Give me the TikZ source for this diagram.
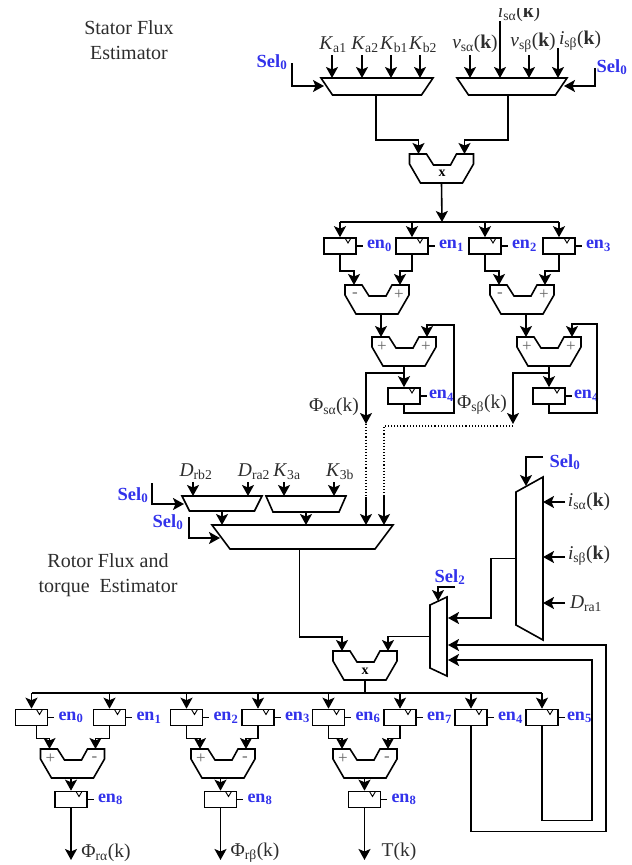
\documentclass[tikz,border=0pt]{standalone}
\usepackage{fontspec}
\setmainfont{Liberation Serif}
\usetikzlibrary{arrows.meta,positioning}
\definecolor{selblue}{RGB}{50,50,235}
\definecolor{txtgray}{RGB}{45,45,45}
\newcommand{\sbt}[1]{\textsubscript{#1}}
\tikzset{
    wire/.style={line width=1.6pt},
    arr/.style={line width=1.6pt, -{Stealth[length=11pt,width=12pt,inset=2.5pt]}},
    link/.style={line width=1.1pt, dotted},
    regbox/.style={draw, line width=1.6pt, fill=white, inner sep=0pt, minimum width=32pt, minimum height=16pt,
        path picture={\draw[line width=0.9pt] ([xshift=-11pt]path picture bounding box.north east) -- ([xshift=-8pt,yshift=-5pt]path picture bounding box.north east) -- ([xshift=-5pt]path picture bounding box.north east);}},
    enlabel/.style={text=selblue, inner sep=0pt, font=\fontsize{18}{18}\selectfont\bfseries},
    sellabel/.style={text=selblue, inner sep=0pt, font=\fontsize{18.5}{18.5}\selectfont\bfseries},
    siglabel/.style={text=txtgray, inner sep=0pt, font=\fontsize{19.5}{19.5}\selectfont},
    titlelabel/.style={text=txtgray, inner sep=0pt, align=center, font=\fontsize{20}{25.5}\selectfont},
    signlabel/.style={text=black!60, inner sep=0pt, font=\fontsize{17}{17}\selectfont},
    pics/alu/.style 2 args={code={
        \draw[wire] (-32,0) -- (-15,0) -- (-8,11) -- (9,11) -- (15,0) -- (32,0) -- (32,10) -- (21,29) -- (-21,29) -- (-32,10) -- cycle;
        \coordinate (-inl) at (-23,0);
        \coordinate (-inr) at (23,0);
        \coordinate (-out) at (0,29);
        \node[signlabel] (-sl) at (-22,10) {#1};
        \node[signlabel] (-sr) at (22,10) {#2};
    }},
    pics/hmux/.style n args={3}{code={
        \draw[wire] (-#1,0) -- (#1,0) -- (#2,#3) -- (-#2,#3) -- cycle;
        \coordinate (-top) at (0,0);
        \coordinate (-bot) at (0,#3);
    }},
    pics/vmux/.style n args={3}{code={
        \draw[wire] (0,-#1) -- (0,#1) -- (-#3,#2) -- (-#3,-#2) -- cycle;
        \coordinate (-in) at (0,0);
        \coordinate (-out) at (-#3,0);
    }}
}
\begin{document}
\begin{tikzpicture}[x=1pt, y=-1pt]
    \useasboundingbox (0,0) rectangle (632,865);
    \clip (0,8) rectangle (632,865);

    % Titles
    \node[titlelabel] (titleS) at (129,40) {Stator Flux\\Estimator};
    \node[titlelabel] (titleR) at (108,575) {Rotor Flux and\\torque\ \ Estimator};

    % Stator input muxes
    \pic (muxK) at (377,78) {hmux={56}{44.5}{17}};
    \pic (muxV) at (512,78) {hmux={55}{43.5}{17}};
    \node[siglabel] (Ka1) at (333,45) {\textit{K}\sbt{a1}};
    \node[siglabel] (Ka2) at (365,45) {\textit{K}\sbt{a2}};
    \node[siglabel] (Kb1) at (394,45) {\textit{K}\sbt{b1}};
    \node[siglabel] (Kb2) at (423,45) {\textit{K}\sbt{b2}};
    \node[siglabel] (vsa) at (475,44) {\textit{v}\sbt{sα}(\textbf{k})};
    \node[siglabel] (isa) at (519,13) {\textit{i}\sbt{sα}(\textbf{k})};
    \node[siglabel] (vsb) at (533,43) {\textit{v}\sbt{sβ}(\textbf{k})};
    \node[siglabel] (isb) at (580,41) {\textit{i}\sbt{sβ}(\textbf{k})};
    \coordinate (Ka1Top) at (332,55);
    \coordinate (Ka2Top) at (362,55);
    \coordinate (Kb1Top) at (391,55);
    \coordinate (Kb2Top) at (420,55);
    \coordinate (vsaTop) at (470,55);
    \coordinate (isaTop) at (500,21);
    \coordinate (vsbTop) at (529,55);
    \coordinate (isbTop) at (558,48);
    \draw[arr] (Ka1Top) -- (Ka1Top |- muxK-top);
    \draw[arr] (Ka2Top) -- (Ka2Top |- muxK-top);
    \draw[arr] (Kb1Top) -- (Kb1Top |- muxK-top);
    \draw[arr] (Kb2Top) -- (Kb2Top |- muxK-top);
    \draw[arr] (vsaTop) -- (vsaTop |- muxV-top);
    \draw[arr] (isaTop) -- (isaTop |- muxV-top);
    \draw[arr] (vsbTop) -- (vsbTop |- muxV-top);
    \draw[arr] (isbTop) -- (isbTop |- muxV-top);

    % Sel lines of the stator muxes
    \node[sellabel] (selK) at (272,62) {Sel\sbt{0}};
    \node[sellabel] (selV) at (612,67) {Sel\sbt{0}};
    \coordinate (selKin) at (324,86);
    \coordinate (selVin) at (564,86);
    \draw[arr] (292,63) |- (selKin);
    \draw[arr] (595,68) |- (selVin);

    % Multiplier
    \pic (mulS) at (441.5,154) {alu={}{}};
    \node[inner sep=0pt, font=\fontsize{14}{14}\selectfont\bfseries] (mulSx) at (442,173) {x};
    \draw[arr] ([xshift=-1pt]muxK-bot) -- ++(0,45) -| (mulS-inl);
    \draw[arr] ([xshift=-4pt]muxV-bot) -- ++(0,45) -| (mulS-inr);

    % Stator registers
    \coordinate (trunkS) at (442,222);
    \draw[arr] (mulS-out) -- (trunkS);
    \node[regbox] (r0) at (340,246) {};
    \node[regbox] (r1) at (412,246) {};
    \node[regbox] (r2) at (485,246) {};
    \node[regbox] (r3) at (559,246) {};
    \draw[wire] (r0.north |- trunkS) -- (r3.north |- trunkS);
    \draw[arr] (r0.north |- trunkS) -- (r0.north);
    \draw[arr] (r1.north |- trunkS) -- (r1.north);
    \draw[arr] (r2.north |- trunkS) -- (r2.north);
    \draw[arr] (r3.north |- trunkS) -- (r3.north);
    \node[enlabel, right=10pt of r0] (enr0) {en\sbt{0}};
    \node[enlabel, right=10pt of r1] (enr1) {en\sbt{1}};
    \node[enlabel, right=10pt of r2] (enr2) {en\sbt{2}};
    \node[enlabel, right=10pt of r3] (enr3) {en\sbt{3}};
    \draw[wire] (r0.east) -- ++(6,0);
    \draw[wire] (r1.east) -- ++(6,0);
    \draw[wire] (r2.east) -- ++(6,0);
    \draw[wire] (r3.east) -- ++(6,0);

    % Subtractors and accumulators
    \pic (s1) at (377,285) {alu={-}{+}};
    \pic (s2) at (522,285) {alu={-}{+}};
    \draw[arr] (r0.south) -- ++(0,16) -| (s1-inl);
    \draw[arr] (r1.south) -- ++(0,16) -| (s1-inr);
    \draw[arr] (r2.south) -- ++(0,16) -| (s2-inl);
    \draw[arr] (r3.south) -- ++(0,16) -| (s2-inr);
    \pic (a1) at (404,337) {alu={+}{+}};
    \pic (a2) at (549,337) {alu={+}{+}};
    \draw[arr] (s1-out -| a1-inl) -- (a1-inl);
    \draw[arr] (s2-out -| a2-inl) -- (a2-inl);
    \node[regbox] (ra) at (404,396) {};
    \node[regbox] (rb) at (549,396) {};
    \draw[arr] (a1-out) -- (ra.north);
    \draw[arr] (a2-out) -- (rb.north);
    \node[enlabel, right=8pt of ra] (enra) {en\sbt{4}};
    \node[enlabel, right=8pt of rb] (enrb) {en\sbt{4}};
    \draw[wire] (ra.east) -- ++(6,0);
    \draw[wire] (rb.east) -- ++(6,0);
    \draw[arr] (ra.south) -- ++(0,8) -- ++(50,0) -- ++(0,-88) -| (a1-inr);
    \draw[arr] (rb.south) -- ++(0,8) -- ++(48,0) -- ++(0,-89) -| (a2-inr);

    % Stator outputs and dotted links
    \node[siglabel] (phisa) at (334,407) {Φ\sbt{sα}(k)};
    \node[siglabel] (phisb) at (482,405) {Φ\sbt{sβ}(k)};
    \coordinate (brA) at (404,373);
    \coordinate (brB) at (549,373);
    \coordinate (dotA) at (366,424);
    \coordinate (dotB) at (513,424);
    \coordinate (solA) at (366,497);
    \coordinate (solB) at (384,497);
    \draw[arr] (brA) -| (dotA);
    \draw[arr] (brB) -| (dotB);
    \draw[link] (dotA) -- (solA);
    \draw[link] (dotB) ++(0,2) -| (solB);

    % Rotor input muxes
    \pic (muxA) at (222,496) {hmux={40}{32.5}{15}};
    \pic (muxB) at (306,496) {hmux={40}{33}{16}};
    \pic (muxL) at (302.5,525) {hmux={90.5}{72.5}{24}};
    \node[siglabel] (Drb) at (196,472) {\textit{D}\sbt{rb2}};
    \node[siglabel] (Dra) at (254,472) {\textit{D}\sbt{ra2}};
    \node[siglabel] (K3a) at (287,472) {\textit{K}\sbt{3a}};
    \node[siglabel] (K3b) at (340,472) {\textit{K}\sbt{3b}};
    \coordinate (DrbTop) at (193,482);
    \coordinate (DraTop) at (248,482);
    \coordinate (K3aTop) at (284,482);
    \coordinate (K3bTop) at (334,482);
    \draw[arr] (DrbTop) -- (DrbTop |- muxA-top);
    \draw[arr] (DraTop) -- (DraTop |- muxA-top);
    \draw[arr] (K3aTop) -- (K3aTop |- muxB-top);
    \draw[arr] (K3bTop) -- (K3bTop |- muxB-top);
    \draw[arr] (muxA-bot) -- (muxA-bot |- muxL-top);
    \draw[arr] (muxB-bot) -- (muxB-bot |- muxL-top);
    \draw[arr] (solA) -- (solA |- muxL-top);
    \draw[arr] (solB) -- (solB |- muxL-top);
    \node[sellabel] (selA) at (133,495) {Sel\sbt{0}};
    \node[sellabel] (selL) at (168,522) {Sel\sbt{0}};
    \coordinate (selAin) at (184,504);
    \coordinate (selLin) at (220,538);
    \draw[arr] (152,483) |- (selAin);
    \draw[arr] (189,517) |- (selLin);

    % Current mux and Sel2 mux
    \pic (muxI) at (543,558.5) {vmux={81.5}{66.5}{27}};
    \pic (muxS) at (447,636.5) {vmux={39.5}{31.5}{17}};
    \node[sellabel] (selI) at (565,462) {Sel\sbt{0}};
    \node[sellabel] (selS) at (450,577) {Sel\sbt{2}};
    \coordinate (selIin) at (526,486);
    \coordinate (selSin) at (438,601);
    \draw[arr] (543,457) -| (selIin);
    \draw[arr] (455,587) -| (selSin);
    \node[siglabel] (isa2) at (589,502) {\textit{i}\sbt{sα}(\textbf{k})};
    \node[siglabel] (isb2) at (589,556) {\textit{i}\sbt{sβ}(\textbf{k})};
    \node[siglabel] (Dra1) at (586,604) {\textit{D}\sbt{ra1}};
    \coordinate (isaIn) at (565,502);
    \coordinate (isbIn) at (565,557);
    \coordinate (draIn) at (565,603);
    \draw[arr] (isaIn) -- (isaIn -| muxI-in);
    \draw[arr] (isbIn) -- (isbIn -| muxI-in);
    \draw[arr] (draIn) -- (draIn -| muxI-in);
    \coordinate (muxSa) at (448,618);
    \coordinate (muxSb) at (448,645);
    \coordinate (muxSc) at (448,660);
    \draw[arr] (muxI-out) -- ++(-25,0) |- (muxSa);

    % Rotor multiplier
    \pic (mulR) at (365,651) {alu={}{}};
    \node[inner sep=0pt, font=\fontsize{14}{14}\selectfont\bfseries] (mulRx) at (365,671) {x};
    \draw[arr] ([xshift=-3pt]muxL-bot) -- ++(0,88) -| (mulR-inl);
    \draw[arr] (muxS-out) -| (mulR-inr);

    % Rotor registers
    \coordinate (trunkR) at (365,693);
    \draw[wire] (mulR-out) -- (trunkR);
    \node[regbox] (q0) at (31.5,717.5) {};
    \node[regbox] (q1) at (109.5,717.5) {};
    \node[regbox] (q2) at (186.5,717.5) {};
    \node[regbox] (q3) at (258,717.5) {};
    \node[regbox] (q6) at (328.5,717.5) {};
    \node[regbox] (q7) at (400,717.5) {};
    \node[regbox] (q4) at (471,717.5) {};
    \node[regbox] (q5) at (542,717.5) {};
    \draw[wire] (q0.north |- trunkR) -- (q5.north |- trunkR);
    \draw[arr] (q0.north |- trunkR) -- (q0.north);
    \draw[arr] (q1.north |- trunkR) -- (q1.north);
    \draw[arr] (q2.north |- trunkR) -- (q2.north);
    \draw[arr] (q3.north |- trunkR) -- (q3.north);
    \draw[arr] (q6.north |- trunkR) -- (q6.north);
    \draw[arr] (q7.north |- trunkR) -- (q7.north);
    \draw[arr] (q4.north |- trunkR) -- (q4.north);
    \draw[arr] (q5.north |- trunkR) -- (q5.north);
    \node[enlabel, right=10pt of q0] (enq0) {en\sbt{0}};
    \node[enlabel, right=10pt of q1] (enq1) {en\sbt{1}};
    \node[enlabel, right=10pt of q2] (enq2) {en\sbt{2}};
    \node[enlabel, right=10pt of q3] (enq3) {en\sbt{3}};
    \node[enlabel, right=10pt of q6] (enq6) {en\sbt{6}};
    \node[enlabel, right=10pt of q7] (enq7) {en\sbt{7}};
    \node[enlabel, right=10pt of q4] (enq4) {en\sbt{4}};
    \node[enlabel, right=8pt of q5] (enq5) {en\sbt{5}};
    \draw[wire] (q0.east) -- ++(6,0);
    \draw[wire] (q1.east) -- ++(6,0);
    \draw[wire] (q2.east) -- ++(6,0);
    \draw[wire] (q3.east) -- ++(6,0);
    \draw[wire] (q6.east) -- ++(6,0);
    \draw[wire] (q7.east) -- ++(6,0);
    \draw[wire] (q4.east) -- ++(6,0);
    \draw[wire] (q5.east) -- ++(6,0);

    % Feedback to the Sel2 mux
    \draw[arr] (q4.south) -- ++(0,105) -- ++(135,0) |- (muxSb);
    \draw[arr] (q5.south) -- ++(0,94) -- ++(50,0) |- (muxSc);

    % Rotor adders
    \pic (b1) at (72.5,749) {alu={+}{-}};
    \pic (b2) at (223,749) {alu={+}{-}};
    \pic (b3) at (365,749) {alu={+}{-}};
    \draw[arr] ([xshift=5pt]q0.south) -- ++(0,12) -| (b1-inl);
    \draw[arr] (q1.south) -- ++(0,12) -| (b1-inr);
    \draw[arr] (q2.south) -- ++(0,12) -| (b2-inl);
    \draw[arr] (q3.south) -- ++(0,12) -| (b2-inr);
    \draw[arr] (q6.south) -- ++(0,12) -| (b3-inl);
    \draw[arr] (q7.south) -- ++(0,12) -| (b3-inr);
    \node[regbox] (p0) at (71,799.5) {};
    \node[regbox] (p1) at (220.5,799.5) {};
    \node[regbox] (p2) at (364.5,799.5) {};
    \draw[arr] (p0.north |- b1-out) -- (p0.north);
    \draw[arr] (p1.north |- b2-out) -- (p1.north);
    \draw[arr] (p2.north |- b3-out) -- (p2.north);
    \node[enlabel, right=10pt of p0] (enp0) {en\sbt{8}};
    \node[enlabel, right=10pt of p1] (enp1) {en\sbt{8}};
    \node[enlabel, right=10pt of p2] (enp2) {en\sbt{8}};
    \draw[wire] (p0.east) -- ++(6,0);
    \draw[wire] (p1.east) -- ++(6,0);
    \draw[wire] (p2.east) -- ++(6,0);

    % Rotor outputs
    \coordinate (endR) at (0,860);
    \draw[arr] (p0.south) -- (p0.south |- endR);
    \draw[arr] (p1.south) -- (p1.south |- endR);
    \draw[arr] (p2.south) -- (p2.south |- endR);
    \node[siglabel] (phira) at (106,853) {Φ\sbt{rα}(k)};
    \node[siglabel] (phirb) at (255,853) {Φ\sbt{rβ}(k)};
    \node[siglabel] (torq) at (399,852) {T(k)};
\end{tikzpicture}
\end{document}
